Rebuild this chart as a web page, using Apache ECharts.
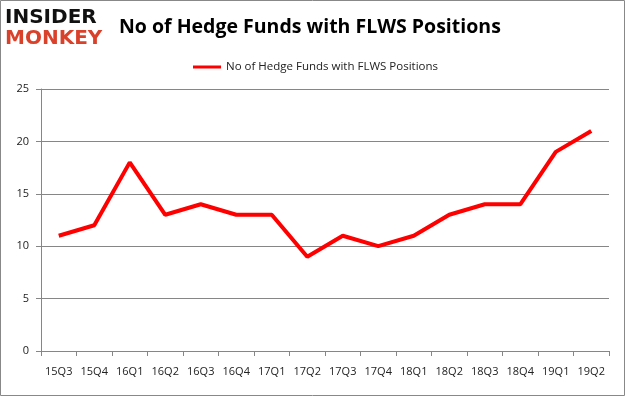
<!DOCTYPE html>
<html lang="">
<head>
  <meta charset="utf-8">
  <title>Chart</title>
  <script src="https://cdn.jsdelivr.net/npm/echarts@6/dist/echarts.min.js"></script>
</head>
<body style="margin:0">
<div id="main" style="width:626px;height:397px"></div>
<script type="text/javascript">
    var quarters = ['15Q3', '15Q4', '16Q1', '16Q2', '16Q3', '16Q4', '17Q1', '17Q2',
        '17Q3', '17Q4', '18Q1', '18Q2', '18Q3', '18Q4', '19Q1', '19Q2'];
    var funds = [11, 12, 18, 13, 14, 13, 13, 9, 11, 10, 11, 13, 14, 14, 19, 21];
    var seriesName = 'No of Hedge Funds with FLWS Positions';

    var myChart = echarts.init(document.getElementById('main'));

    var option = {
        backgroundColor: '#fff',
        animation: false,
        title: {
            text: 'No of Hedge Funds with FLWS Positions',
            left: 114,
            top: 12,
            textStyle: {
                fontFamily: 'Open Sans',
                fontWeight: 'bold',
                fontSize: 19.5,
                color: '#000'
            }
        },
        legend: {
            data: [seriesName],
            top: 56,
            left: 188,
            itemWidth: 28,
            itemHeight: 3,
            itemGap: 4,
            icon: 'rect',
            textStyle: {
                fontFamily: 'Open Sans',
                fontSize: 11.5,
                color: '#222'
            }
        },
        grid: {
            left: 41,
            right: 17,
            top: 89,
            bottom: 46
        },
        xAxis: {
            type: 'category',
            data: quarters,
            boundaryGap: true,
            axisLine: { lineStyle: { color: '#868686' } },
            axisTick: { show: true, alignWithLabel: false, length: 5, lineStyle: { color: '#868686' } },
            axisLabel: {
                fontFamily: 'Open Sans',
                fontSize: 11,
                color: '#222',
                margin: 15,
                interval: 0
            }
        },
        yAxis: {
            type: 'value',
            min: 0,
            max: 25,
            interval: 5,
            axisLine: { show: true, lineStyle: { color: '#868686' } },
            axisTick: { show: true, length: 5, lineStyle: { color: '#868686' } },
            axisLabel: {
                fontFamily: 'Open Sans',
                fontSize: 11,
                color: '#222',
                margin: 12
            },
            splitLine: { lineStyle: { color: '#868686' } }
        },
        graphic: [
            {
                type: 'rect',
                shape: { x: 0.5, y: 0.5, width: 624, height: 395 },
                style: { fill: 'none', stroke: '#888', lineWidth: 1 }
            },
            {
                type: 'text',
                left: 5,
                top: 8,
                style: {
                    text: 'INSIDER',
                    font: 'bold 20px "DejaVu Sans"',
                    fill: '#111'
                }
            },
            {
                type: 'text',
                left: 5,
                top: 29,
                style: {
                    text: 'MONKEY',
                    font: 'bold 20px "DejaVu Sans"',
                    fill: '#d9412b'
                }
            }
        ],
        series: [{
            name: seriesName,
            type: 'line',
            data: funds,
            symbol: 'none',
            lineStyle: { color: '#ff0000', width: 4 },
            itemStyle: { color: '#ff0000' }
        }]
    };

    myChart.setOption(option);
</script>
</body>
</html>
